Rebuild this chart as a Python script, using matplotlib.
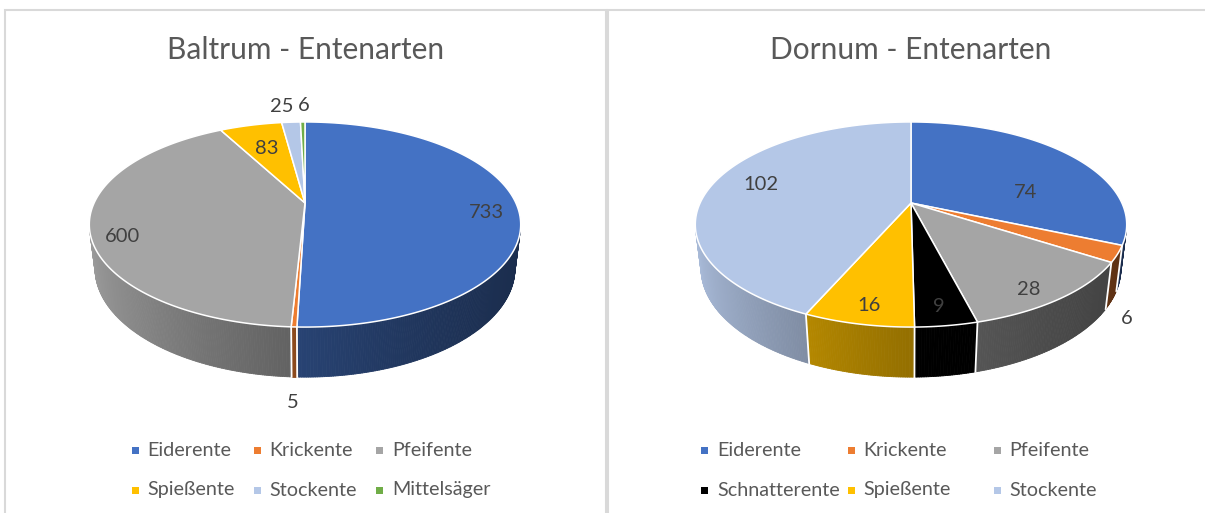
import numpy as np
import matplotlib.pyplot as plt
from matplotlib.patches import Polygon, Rectangle
from matplotlib.collections import PolyCollection
from matplotlib.colors import to_rgb

plt.rcParams['font.family'] = ['Lato', 'DejaVu Sans']

###############################################################################
# Data
###############################################################################
baltrum_species = ['Eiderente', 'Krickente', 'Pfeifente', 'Spießente', 'Stockente', 'Mittelsäger']
baltrum_counts = [733, 5, 600, 83, 25, 6]
baltrum_colors = ['#4472c4', '#ed7d31', '#a5a5a5', '#ffc000', '#b4c7e7', '#70ad47']

dornum_species = ['Eiderente', 'Krickente', 'Pfeifente', 'Schnatterente', 'Spießente', 'Stockente']
dornum_counts = [74, 6, 28, 9, 16, 102]
dornum_colors = ['#4472c4', '#ed7d31', '#a5a5a5', '#000000', '#ffc000', '#b4c7e7']

# label placement: radial position (>1 means outside) and a small pixel nudge
baltrum_label_r = [0.86, 1.13, 0.85, 0.7, 1.25, 1.25]
baltrum_label_nudge = [(0, 8), (0, 3), (0, 15), (2, 3), (-7, 0), (1, 0)]
dornum_label_r = [0.7, 1.08, 0.8, 0.8, 0.8, 0.75]
dornum_label_nudge = [(0, 24), (-3, 14), (3, 13), (1, 10), (-2, 11), (0, -4)]
#------------------------------------------------------------------------------

###############################################################################
# Simple perspective camera for the 3D pies (unit radius disc)
###############################################################################
TILT = np.radians(27.7)
DIST = 4.22
FOCAL = 890.0
HEIGHT = 0.236

TEXT_GREY = '#595959'
LABEL_GREY = '#404040'


def project(cx, cy, X, Y, Z):
    yc = Y * np.sin(TILT) + Z * np.cos(TILT)
    zc = DIST + Y * np.cos(TILT) - Z * np.sin(TILT)
    return cx + FOCAL * X / zc, cy - FOCAL * yc / zc


def shade(color, s):
    # side walls get darker towards the right
    f = 0.58 - 0.28 * s + 0.09 * s**2
    return tuple(np.clip(np.array(to_rgb(color)) * f, 0, 1))


def draw_pie(ax, cx, cy, counts, colors, label_r, label_nudge):
    total = float(sum(counts))
    edges = np.concatenate([[0], np.cumsum(counts)]) / total * 2 * np.pi
    t_lo = np.arccos(-1 / (DIST * np.cos(TILT)))
    t_hi = 2 * np.pi - t_lo

    # side walls
    for i, col in enumerate(colors):
        a, b = max(edges[i], t_lo), min(edges[i + 1], t_hi)
        if b <= a:
            continue
        n = max(int(np.degrees(b - a) * 2), 2)
        t = np.linspace(a, b, n)
        xt, yt = project(cx, cy, np.sin(t), np.cos(t), 0)
        xb, yb = project(cx, cy, np.sin(t), np.cos(t), -HEIGHT)
        quads, fcs = [], []
        for k in range(n - 1):
            quads.append([(xt[k], yt[k]), (xt[k + 1], yt[k + 1]),
                          (xb[k + 1], yb[k + 1]), (xb[k], yb[k])])
            fcs.append(shade(col, np.sin(0.5 * (t[k] + t[k + 1]))))
        ax.add_collection(PolyCollection(quads, facecolors=fcs, edgecolors=fcs,
                                         linewidths=0.6, zorder=1))

    # white seams between slices on the side wall
    for e in edges[1:-1]:
        if t_lo < e < t_hi:
            x0, y0 = project(cx, cy, np.sin(e), np.cos(e), 0)
            x1, y1 = project(cx, cy, np.sin(e), np.cos(e), -HEIGHT)
            ax.plot([x0, x1], [y0, y1], color='white', lw=1.3, zorder=2)

    # top faces
    for i, col in enumerate(colors):
        n = max(int(np.degrees(edges[i + 1] - edges[i]) * 2), 2)
        t = np.linspace(edges[i], edges[i + 1], n)
        xs, ys = project(cx, cy, np.sin(t), np.cos(t), 0)
        pts = [(cx, cy)] + list(zip(xs, ys))
        ax.add_patch(Polygon(pts, closed=True, facecolor=col, edgecolor='white',
                             lw=1.1, joinstyle='round', zorder=3))

    # value labels
    for i, v in enumerate(counts):
        m = 0.5 * (edges[i] + edges[i + 1])
        r = label_r[i]
        z = -HEIGHT if (r > 1 and np.cos(m) < 0) else 0
        lx, ly = project(cx, cy, r * np.sin(m), r * np.cos(m), z)
        dx, dy = label_nudge[i]
        ax.text(lx + dx, ly + dy, str(v), ha='center', va='center', fontsize=14.5,
                color=LABEL_GREY, zorder=4)


def draw_legend(ax, species, colors, marker_x, text_x, rows_y):
    for i, (name, col) in enumerate(zip(species, colors)):
        row, c = divmod(i, 3)
        y = rows_y[row]
        ax.add_patch(Rectangle((marker_x[c] - 3.5, y - 3.5), 7, 7,
                               facecolor=col, edgecolor='none', zorder=4))
        ax.text(text_x[c], y, name, ha='left', va='center', fontsize=14.2,
                color=TEXT_GREY, zorder=4)


fig = plt.figure(figsize=(12.05, 5.13), dpi=100)
ax = fig.add_axes([0, 0, 1, 1])
ax.set_xlim(0, 1205)
ax.set_ylim(513, 0)
ax.axis('off')

# panel frames
ax.add_patch(Rectangle((5, 10), 601, 520, facecolor='white', edgecolor='#d9d9d9', lw=1.5, zorder=0))
ax.add_patch(Rectangle((608, 10), 610, 520, facecolor='white', edgecolor='#d9d9d9', lw=1.5, zorder=0))

###############################################################################
# Baltrum
###############################################################################
ax.text(306, 50, 'Baltrum - Entenarten', ha='center', va='center', fontsize=21.5, color=TEXT_GREY)
draw_pie(ax, 305, 203, baltrum_counts, baltrum_colors, baltrum_label_r, baltrum_label_nudge)
draw_legend(ax, baltrum_species, baltrum_colors, [135, 257, 379], [147, 269, 392], [450, 490])

###############################################################################
# Dornum
###############################################################################
ax.text(911, 50, 'Dornum - Entenarten', ha='center', va='center', fontsize=21.5, color=TEXT_GREY)
draw_pie(ax, 911, 203, dornum_counts, dornum_colors, dornum_label_r, dornum_label_nudge)
draw_legend(ax, dornum_species, dornum_colors, [704, 851, 997], [717, 863, 1009], [450, 490])

plt.savefig('out.png', dpi=100)
